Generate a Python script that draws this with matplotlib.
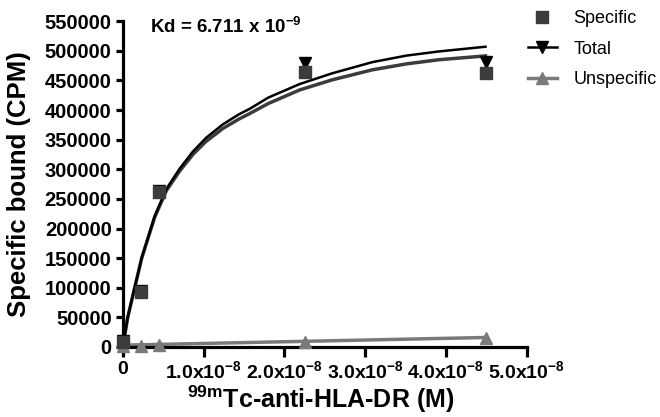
import matplotlib
matplotlib.use('Agg')
import matplotlib.pyplot as plt
from matplotlib.lines import Line2D

plt.rcParams['font.family'] = ['Liberation Sans', 'DejaVu Sans']
plt.rcParams['mathtext.fontset'] = 'custom'
plt.rcParams['mathtext.rm'] = 'Liberation Sans'
plt.rcParams['mathtext.bf'] = 'Liberation Sans:bold'

# measured points
conc = [0, 2.25e-9, 4.5e-9, 2.25e-8, 4.5e-8]
specific = [8000, 93000, 262000, 465000, 463000]
total = [10000, 95000, 264000, 480000, 481000]
unspecific = [1000, 2000, 2500, 9000, 15000]

# fitted curves
fit_x = [0, 0.62e-9, 1.48e-9, 2.35e-9, 3.95e-9, 5.4e-9, 7.04e-9, 8.68e-9, 1.03e-8,
         1.24e-8, 1.44e-8, 1.57e-8, 1.8e-8, 2.19e-8, 2.59e-8, 3.09e-8, 3.51e-8,
         3.91e-8, 4.49e-8]
fit_total = [0, 51000, 101000, 151000, 221000, 267000, 301000, 330000, 353000,
             376000, 393000, 402000, 421000, 444000, 462000, 481000, 492000,
             499000, 507000]
fit_specific = [0, 50000, 100000, 150000, 219000, 264000, 297000, 325000, 347000,
                369000, 385000, 394000, 411000, 434000, 451000, 468000, 478000,
                485000, 491500]
unspec_fit_x = [0, 4.5e-8]
unspec_fit = [3000, 16000]

xticks = [0, 1e-8, 2e-8, 3e-8, 4e-8, 5e-8]
xticklabels = ['0', r'1.0x10$^{\mathbf{-8}}$', r'2.0x10$^{\mathbf{-8}}$',
               r'3.0x10$^{\mathbf{-8}}$', r'4.0x10$^{\mathbf{-8}}$', r'5.0x10$^{\mathbf{-8}}$']
yticks = list(range(0, 550001, 50000))

c_spec = '#3c3c3c'
c_unspec = '#7a7a7a'

fig = plt.figure(figsize=(6.6, 4.17), dpi=100)
ax = fig.add_axes([0.186, 0.168, 0.612, 0.781])

ax.plot(unspec_fit_x, unspec_fit, color=c_unspec, lw=2.5, zorder=2)
ax.plot(fit_x, fit_specific, color=c_spec, lw=2.5, zorder=2)
ax.plot(fit_x, fit_total, color='black', lw=1.8, zorder=3)

ax.plot(conc, unspecific, '^', color=c_unspec, ms=8, clip_on=False, zorder=4)
ax.plot(conc, total, 'v', color='black', ms=8, clip_on=False, zorder=4)
ax.plot(conc, specific, 's', color=c_spec, ms=8, clip_on=False, zorder=5)

ax.set_xlim(0, 5e-8)
ax.set_ylim(0, 550000)
ax.set_xticks(xticks)
ax.set_xticklabels(xticklabels)
ax.set_yticks(yticks)
ax.set_yticklabels([str(v) for v in yticks])
for lab in ax.get_xticklabels():
    lab.set_fontweight('bold')
    lab.set_fontsize(14)
for lab in ax.get_yticklabels():
    lab.set_fontweight('bold')
    lab.set_fontsize(14.5)

for s in ['top', 'right']:
    ax.spines[s].set_visible(False)
for s in ['left', 'bottom']:
    ax.spines[s].set_linewidth(2.3)
ax.tick_params(axis='y', width=2.3, length=5, pad=3)
ax.tick_params(axis='x', width=2.3, length=7, pad=3)

ax.set_ylabel('Specific bound (CPM)', fontsize=18.5, fontweight='bold', va='center')
ax.yaxis.set_label_coords(-0.257, 0.5)
ax.set_xlabel(r'$^{\mathbf{99m}}$Tc-anti-HLA-DR (M)', fontsize=18, fontweight='bold',
              va='baseline')
ax.xaxis.set_label_coords(0.491, -0.188)

ax.text(0.067, 0.985, r'Kd = 6.711 x 10$^{\mathbf{-9}}$', transform=ax.transAxes,
        fontsize=13.5, fontweight='bold', va='center', ha='left')

handles = [
    Line2D([], [], marker='s', color=c_spec, ls='none', ms=8),
    Line2D([], [], marker='v', color='black', lw=1.8, ms=8),
    Line2D([], [], marker='^', color=c_unspec, lw=2.5, ms=8),
]
fig.legend(handles, ['Specific', 'Total', 'Unspecific'], loc='upper left',
           bbox_to_anchor=(0.8, 0.976), frameon=False, fontsize=13,
           handlelength=1.6, labelspacing=0.75, handletextpad=0.9,
           borderpad=0, borderaxespad=0)

fig.savefig('out.png', dpi=100)
